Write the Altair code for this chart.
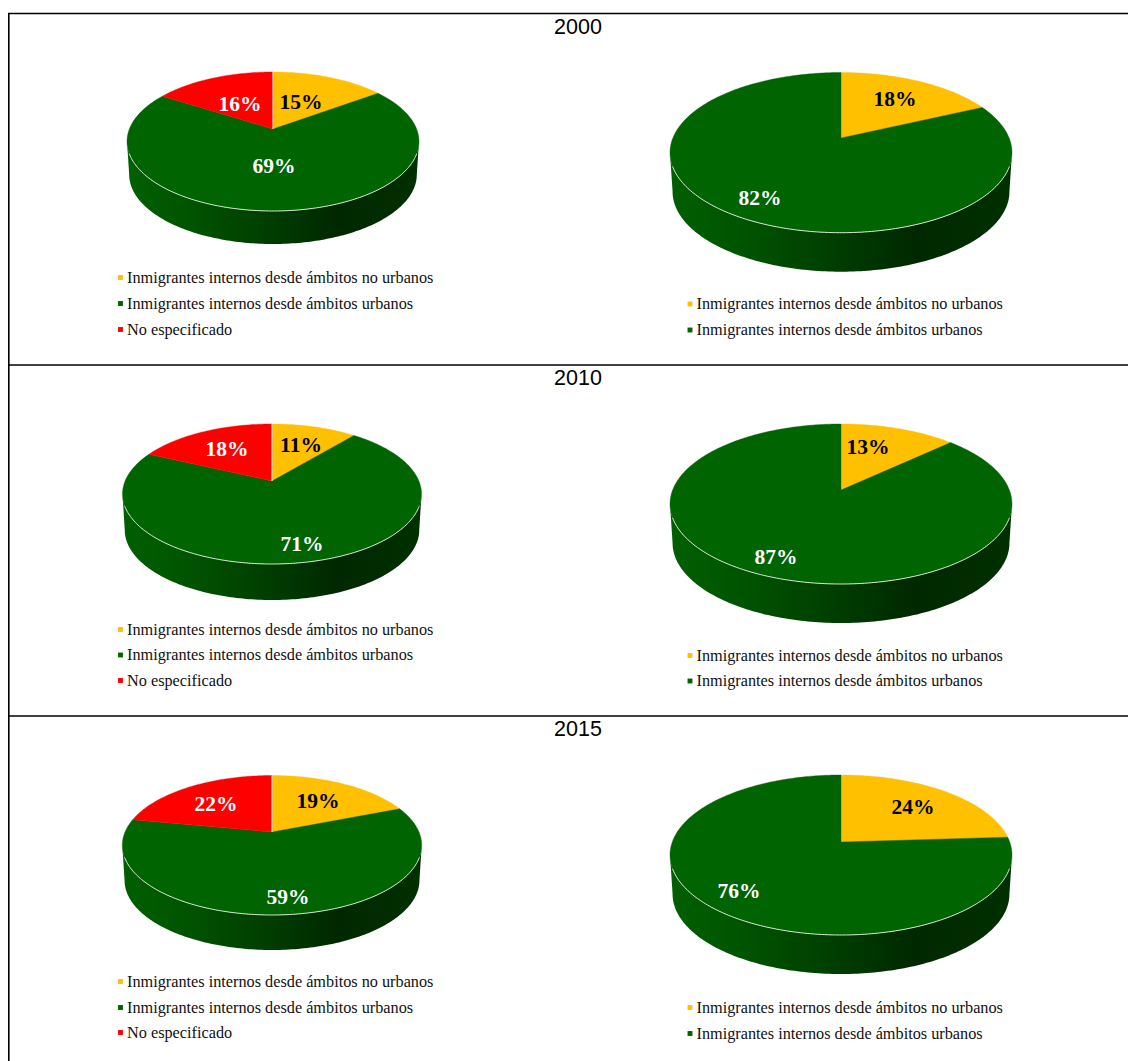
import numpy as np
import pandas as pd
import altair as alt

# ---- values ----
years = ["2000", "2010", "2015"]
cat_rural = "Inmigrantes internos desde ámbitos no urbanos"
cat_urban = "Inmigrantes internos desde ámbitos urbanos"
cat_none = "No especificado"
categories = [cat_rural, cat_urban, cat_none]
colors = ["#FFC000", "#006400", "#FF0000"]

left_rural = [15, 11, 19]
left_urban = [69, 71, 59]
left_none = [16, 18, 22]
right_rural = [18, 13, 24]
right_urban = [82, 87, 76]

# ---- layout (page pixels) ----
# apex x, apex y, top, bottom, half-width, depth
left_geo = [(273, 129, 72, 211, 146, 33), (272, 481, 424, 564, 149.5, 36), (272, 832, 775.5, 915, 149.7, 35)]
right_geo = [(841, 138, 72.5, 232.7, 171, 39), (841, 490, 424, 584, 171, 39), (841, 842, 775, 935, 171, 39)]
left_lab = [[(301, 103), (274, 167), (240, 105)], [(301, 446), (302, 545), (227, 450)], [(318, 801.5), (288, 898), (216, 805)]]
right_lab = [[(895, 100), (760, 199)], [(868, 448), (776, 558)], [(913, 807.5), (739, 891.5)]]
left_leg = [[277.5, 303.5, 329.5], [629.5, 655, 680.5], [981.5, 1007.5, 1032.5]]
right_leg = [[304, 330], [655.5, 681], [1007.5, 1033.5]]
title_y = [28, 379, 730]
rule_y = [13.5, 365, 716]

X = alt.Scale(domain=[8, 1128], nice=False, zero=False)
Y = alt.Scale(domain=[1061, 8], nice=False, zero=False)
W, H = 1120, 1053


def project(geo, theta):
    ax, ay, top, bot, hw, _ = geo
    up, down = ay - top, bot - ay
    k = (down - up) / (down + up)
    b = up * (1 + k)
    a = hw * np.sqrt(1 - k * k)
    u, v = np.sin(theta), np.cos(theta)
    d = 1 + k * v
    return ax + a * u / d, ay - b * v / d, k


slices, sides, rims, seams = [], [], [], []
labels, legend = [], []
pie_id = 0
for i in range(3):
    for geo, vals, labs, leg_y, leg_x in (
        (left_geo[i], [left_rural[i], left_urban[i], left_none[i]], left_lab[i], left_leg[i], 120.5),
        (right_geo[i], [right_rural[i], right_urban[i]], right_lab[i], right_leg[i], 690),
    ):
        pie_id += 1
        total = sum(vals)
        start = 0.0
        for j, val in enumerate(vals):
            end = start + val / total * 2 * np.pi
            th = np.linspace(start, end, max(3, int(val * 4)))
            xs, ys, k = project(geo, th)
            pts = [(geo[0], geo[1])] + list(zip(xs, ys)) + [(geo[0], geo[1])]
            for s, (px, py) in enumerate(pts):
                slices.append(dict(key=f"{pie_id}-{j}", cat=categories[j], seq=s, x=px, y=py))
            labels.append(dict(text=f"{val}%", x=labs[j][0], y=labs[j][1], ink="dark" if j == 0 else "light"))
            start = end
            legend.append(dict(cat=categories[j], x=leg_x, tx=leg_x + 6.5, y=leg_y[j]))
        # side wall
        _, _, k = project(geo, 0.0)
        t0 = np.arccos(-k)
        th = np.linspace(t0, 2 * np.pi - t0, 160)
        xs, ys, _ = project(geo, th)
        low = geo[0] + (xs - geo[0]) * 0.985
        ring = list(zip(xs, ys)) + list(zip(low[::-1], (ys + geo[5])[::-1]))
        for s, (px, py) in enumerate(ring):
            sides.append(dict(key=pie_id, seq=s, x=px, y=py))
        th = np.linspace(t0 + 0.17, 2 * np.pi - t0 - 0.17, 140)
        xs, ys, _ = project(geo, th)
        for s, (px, py) in enumerate(zip(xs, ys)):
            rims.append(dict(key=pie_id, seq=s, x=px, y=py))
        seam_x, seam_y, _ = project(geo, 0.0)
        seams.append(dict(x=geo[0], y=geo[1], y2=seam_y))

pos = dict(x=alt.X("x:Q", scale=X, axis=None), y=alt.Y("y:Q", scale=Y, axis=None))
cat_color = dict(domain=categories, range=colors)

side_fill = alt.Gradient(
    gradient="linear", x1=0, x2=1, y1=0, y2=0,
    stops=[
        alt.GradientStop(color="#005f00", offset=0),
        alt.GradientStop(color="#005500", offset=0.2),
        alt.GradientStop(color="#003c00", offset=0.5),
        alt.GradientStop(color="#002800", offset=0.72),
        alt.GradientStop(color="#003000", offset=1),
    ],
)
side_layer = alt.Chart(pd.DataFrame(sides)).mark_line(fill=side_fill, strokeWidth=0).encode(
    detail="key:N", order="seq:Q", **pos
)
slice_layer = alt.Chart(pd.DataFrame(slices)).mark_line(strokeWidth=0.4).encode(
    fill=alt.Fill("cat:N", scale=alt.Scale(**cat_color), legend=None),
    stroke=alt.Stroke("cat:N", scale=alt.Scale(**cat_color), legend=None),
    detail="key:N", order="seq:Q", **pos
)
rim_layer = alt.Chart(pd.DataFrame(rims)).mark_line(stroke="#d5e4d5", strokeWidth=1).encode(
    detail="key:N", order="seq:Q", **pos
)
seam_layer = alt.Chart(pd.DataFrame(seams[0::2])).mark_rule(stroke="#ffffff", strokeWidth=1).encode(
    x=alt.X("x:Q", scale=X, axis=None), y=alt.Y("y:Q", scale=Y, axis=None), y2="y2:Q"
)
label_layer = alt.Chart(pd.DataFrame(labels)).mark_text(
    font="Liberation Serif", fontWeight="bold", fontSize=21.5, align="center", baseline="middle"
).encode(
    text="text:N",
    color=alt.Color("ink:N", scale=alt.Scale(domain=["dark", "light"], range=["#000000", "#ffffff"]), legend=None),
    **pos,
)
leg_df = pd.DataFrame(legend)
leg_marks = alt.Chart(leg_df).mark_square(size=24, opacity=1, filled=True).encode(
    fill=alt.Fill("cat:N", scale=alt.Scale(**cat_color), legend=None), **pos
)
leg_text = alt.Chart(leg_df).mark_text(
    font="Liberation Serif", fontSize=16.25, align="left", baseline="middle", color="#111111"
).encode(text="cat:N", x=alt.X("tx:Q", scale=X, axis=None), y=alt.Y("y:Q", scale=Y, axis=None))
title_layer = alt.Chart(pd.DataFrame(dict(text=years, y=title_y, x=[578] * 3))).mark_text(
    font="Liberation Sans", fontSize=21.5, align="center", baseline="middle", color="#000000"
).encode(text="text:N", **pos)

h_rules = pd.DataFrame(dict(y=rule_y, x=[8] * 3, x1=[1128] * 3))
h_layer = alt.Chart(h_rules).mark_rule(stroke="#000000", strokeWidth=1.6).encode(
    x=alt.X("x:Q", scale=X, axis=None), x2="x1:Q", y=alt.Y("y:Q", scale=Y, axis=None)
)
v_layer = alt.Chart(pd.DataFrame(dict(x=[8.8], y=[13], y1=[1061]))).mark_rule(stroke="#000000", strokeWidth=1.6).encode(
    x=alt.X("x:Q", scale=X, axis=None), y=alt.Y("y:Q", scale=Y, axis=None), y2="y1:Q"
)

chart = alt.layer(
    side_layer, slice_layer, rim_layer, seam_layer, label_layer,
    leg_marks, leg_text, title_layer, h_layer, v_layer,
).properties(
    width=W, height=H, padding=0, autosize=alt.AutoSizeParams(type="none"), background="#ffffff"
).configure_view(stroke=None)

chart.save("out.html", embed_options={"renderer": "svg", "actions": False})
